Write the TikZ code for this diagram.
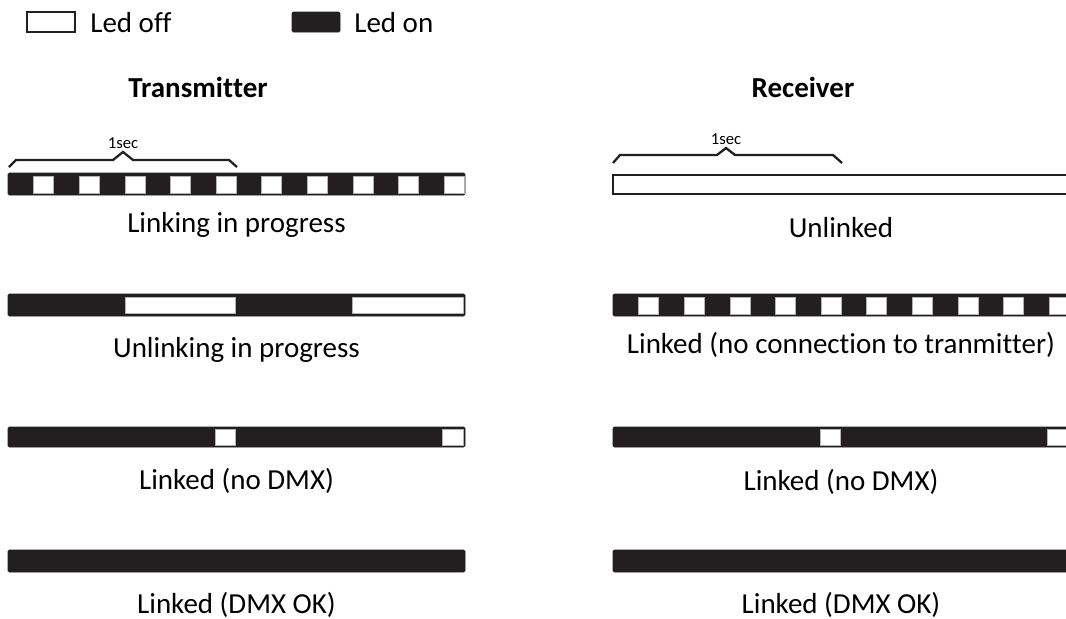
\documentclass[tikz,border=0pt]{standalone}
\usepackage{fontspec}
\setmainfont[Ligatures={NoCommon,NoContextual,NoRare},Contextuals=NoAlternate]{Carlito}
\usepackage{tikz}
\usetikzlibrary{positioning}
\definecolor{ledblack}{RGB}{35,31,32}

\begin{document}
\begin{tikzpicture}[x=0.02cm,y=-0.02cm,
    lbl/.style={inner sep=0pt,anchor=base,font=\fontsize{16.5}{20}\selectfont},
    ttl/.style={inner sep=0pt,anchor=base,font=\fontsize{16.5}{20}\selectfont\bfseries},
    tick/.style={inner sep=0pt,font=\fontsize{9.5}{11}\selectfont},
    onbar/.style={fill=ledblack,draw=ledblack,line width=0.5pt,rounded corners=0.8pt},
    offbar/.style={fill=white,draw=ledblack,line width=1pt},
    hole/.style={fill=white,draw=gray!60,line width=0.3pt},
    brace/.style={draw=ledblack,line width=1.3pt}]
        \clip (0,0) rectangle (1066,619);

        % legend
        \draw[offbar] (27,12) rectangle (75,32);
        \node[lbl,anchor=base west] (offtxt) at (90,32) {Led off};
        \draw[onbar] (292,12) rectangle (340,32);
        \node[lbl,anchor=base west] (ontxt) at (354,32) {Led on};

        % titles
        \node[ttl] (tx) at (198,97) {Transmit\kern0pt ter};
        \node[ttl] (rx) at (803,97) {Receiver};

        % 1sec braces
        \coordinate (ttip) at (123,152);
        \coordinate (rtip) at (726,148);
        \draw[brace] (9,167) -- (16,160) -- (113,160) -- (ttip) -- (133,160) -- (229,160) -- (237,167);
        \draw[brace] (613,163) -- (620,155) -- (717,155) -- (rtip) -- (735,155) -- (833,155) -- (842,163);
        \node[tick,above=2pt of ttip] (tsec) {1sec};
        \node[tick,above=2pt of rtip] (rsec) {1sec};

        % transmitter bars
        \draw[onbar] (8,173) rectangle (465,195);
        \foreach \k in {0,...,9}
          \draw[hole] ({33.6+45.6*\k},176) rectangle +(20,17);
        \draw[onbar] (8,294) rectangle (465,316);
        \draw[hole] (125,297) rectangle (235,313);
        \draw[hole] (352,297) rectangle (463,313);
        \draw[onbar] (8,427) rectangle (465,447);
        \draw[hole] (215,429) rectangle (235,445);
        \draw[hole] (442,429) rectangle (463,445);
        \draw[onbar] (8,550) rectangle (465,572);

        % receiver bars
        \draw[offbar] (613,175) rectangle (1070,194);
        \draw[onbar] (613,294) rectangle (1070,316);
        \foreach \k in {0,...,9}
          \draw[hole] ({638.6+45.6*\k},297) rectangle +(20,17);
        \draw[onbar] (613,427) rectangle (1070,447);
        \draw[hole] (820,429) rectangle (840,445);
        \draw[hole] (1047,429) rectangle (1067,445);
        \draw[onbar] (613,550) rectangle (1070,572);

        % state labels
        \node[lbl] (t1) at (236.5,232) {Linking in progress};
        \node[lbl] (t2) at (236.5,357) {Unlinking in progress};
        \node[lbl] (t3) at (236.5,489) {Linked (no DMX)};
        \node[lbl] (t4) at (236.5,613) {Linked (DMX OK)};
        \node[lbl] (r1) at (841,237) {Unlinked};
        \node[lbl] (r2) at (841,353) {Linked (no connec\kern0pt tion to tranmit\kern0pt ter)};
        \node[lbl] (r3) at (841,490) {Linked (no DMX)};
        \node[lbl] (r4) at (841,613) {Linked (DMX OK)};
\end{tikzpicture}
\end{document}
